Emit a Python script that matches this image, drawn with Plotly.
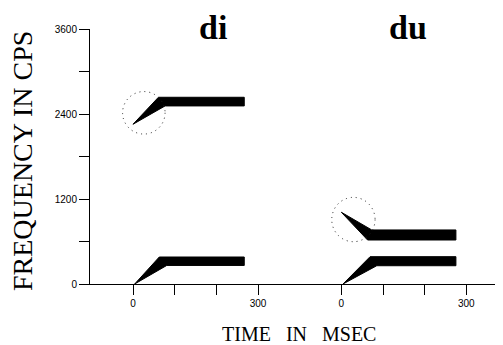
import plotly.graph_objects as go

# ---- data (times in ms within each syllable, frequencies in cps) ----
syllables = ["di", "du"]
time_offset = [0, 500]          # second display starts 500 ms later on the shared axis
end_time = [267, 275]

f1_onset_t = [4, 4]
f1_onset_f = [0, 0]
f1_top_t = [63, 69]
f1_bot_t = [81, 85]
f1_top_f = [381, 386]
f1_bot_f = [262, 258]

f2_onset_t = [0, 0]
f2_onset_f = [2255, 1013]
f2_top_t = [61, 73]
f2_bot_t = [77, 63]
f2_top_f = [2636, 763]
f2_bot_f = [2514, 621]

locus_center_t = [26, 29]
locus_center_f = [2417, 910]
locus_radius_t = [51, 52]
locus_radius_f = [300, 313]

x_tickvals = [0, 100, 200, 300, 500, 600, 700, 800]
x_ticktext = ["0", "", "", "300", "0", "", "", "300"]
y_tickvals = [0, 600, 1200, 1800, 2400, 3000, 3600]
y_ticktext = ["0", "", "1200", "", "2400", "", "3600"]

SERIF = "Liberation Serif, Times New Roman, serif"
SANS = "Liberation Sans, Arial, sans-serif"

fig = go.Figure()

def formant(i, on_t, on_f, top_t, bot_t, top_f, bot_f):
    off = time_offset[i]
    xs = [on_t + off, top_t + off, end_time[i] + off, end_time[i] + off, bot_t + off, on_t + off]
    ys = [on_f, top_f, top_f, bot_f, bot_f, on_f]
    fig.add_trace(go.Scatter(x=xs, y=ys, mode="lines", fill="toself",
                             fillcolor="black", line=dict(color="black", width=1),
                             hoverinfo="skip", showlegend=False))

for i in range(len(syllables)):
    formant(i, f1_onset_t[i], f1_onset_f[i], f1_top_t[i], f1_bot_t[i], f1_top_f[i], f1_bot_f[i])
    formant(i, f2_onset_t[i], f2_onset_f[i], f2_top_t[i], f2_bot_t[i], f2_top_f[i], f2_bot_f[i])
    off = time_offset[i]
    fig.add_shape(type="circle", xref="x", yref="y",
                  x0=locus_center_t[i] - locus_radius_t[i] + off,
                  x1=locus_center_t[i] + locus_radius_t[i] + off,
                  y0=locus_center_f[i] - locus_radius_f[i],
                  y1=locus_center_f[i] + locus_radius_f[i],
                  line=dict(color="#222", width=1, dash="1px,4px"))

# syllable titles
title_x = [192, 660]
for i, s in enumerate(syllables):
    fig.add_annotation(text="<b>%s</b>" % s, x=title_x[i], xref="x",
                       y=(284 - 27) / 255, yref="paper", yanchor="middle",
                       showarrow=False, font=dict(family=SERIF, size=34, color="black"))

fig.add_annotation(text="FREQUENCY IN CPS", textangle=-90, xref="paper", yref="paper",
                   x=(23 - 90) / 413, y=(284 - 161) / 255, xanchor="center", yanchor="middle",
                   showarrow=False, font=dict(family=SERIF, size=28, color="black"))
fig.add_annotation(text="TIME\u00a0\u00a0\u00a0IN\u00a0\u00a0\u00a0MSEC", xref="paper", yref="paper",
                   x=(299 - 90) / 413, y=(284 - 334) / 255, xanchor="center", yanchor="middle",
                   showarrow=False, font=dict(family=SERIF, size=20, color="black"))

fig.update_xaxes(range=[-103.2, 888], showline=True, linecolor="black", linewidth=1,
                 ticks="outside", ticklen=10, tickcolor="black", tickwidth=1,
                 tickvals=x_tickvals, ticktext=x_ticktext, showgrid=False, zeroline=False,
                 tickfont=dict(family=SANS, size=10, color="black"))
fig.update_yaxes(range=[0, 3600], showline=True, linecolor="black", linewidth=1,
                 ticks="outside", ticklen=10, tickcolor="black", tickwidth=1,
                 tickvals=y_tickvals, ticktext=y_ticktext, showgrid=False, zeroline=False,
                 tickfont=dict(family=SANS, size=10, color="black"))

# the page adds an 8px body margin, so the figure is 8px smaller and the plot area
# is shifted accordingly to land at the reference's page coordinates
fig.update_layout(width=495, height=337, margin=dict(l=82, r=0, t=21, b=61),
                  paper_bgcolor="white", plot_bgcolor="white", showlegend=False)

fig.write_html("out.html")
